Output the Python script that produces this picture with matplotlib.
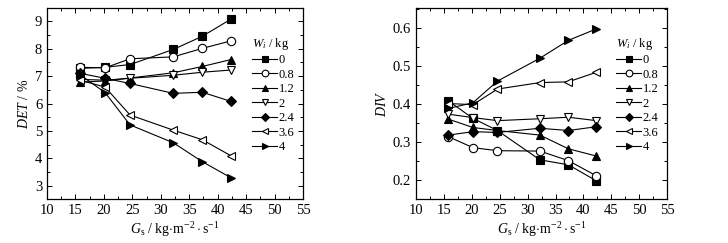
import matplotlib
matplotlib.use("Agg")
import matplotlib.pyplot as plt
from matplotlib.ticker import MultipleLocator

plt.rcParams['font.family'] = ['Liberation Serif', 'DejaVu Serif']
plt.rcParams['mathtext.fontset'] = 'custom'
plt.rcParams['mathtext.rm'] = 'Liberation Serif'
plt.rcParams['mathtext.it'] = 'Liberation Serif:italic'

gs = [15.8, 20.2, 24.6, 32.2, 37.3, 42.3]
wi_labels = ['0', '0.8', '1.2', '2', '2.4', '3.6', '4']

det_0 = [7.28, 7.32, 7.42, 7.97, 8.45, 9.07]
det_08 = [7.32, 7.30, 7.63, 7.70, 8.01, 8.28]
det_12 = [6.78, 6.82, 6.93, 7.12, 7.35, 7.60]
det_2 = [6.88, 6.85, 6.92, 7.03, 7.14, 7.22]
det_24 = [7.10, 6.92, 6.73, 6.37, 6.41, 6.08]
det_36 = [6.85, 6.60, 5.58, 5.03, 4.68, 4.10]
det_4 = [7.05, 6.40, 5.22, 4.57, 3.88, 3.30]

div_0 = [0.408, 0.362, 0.330, 0.253, 0.240, 0.198]
div_08 = [0.314, 0.285, 0.277, 0.276, 0.251, 0.211]
div_12 = [0.360, 0.338, 0.330, 0.318, 0.282, 0.263]
div_2 = [0.373, 0.364, 0.356, 0.361, 0.365, 0.356]
div_24 = [0.318, 0.327, 0.325, 0.336, 0.330, 0.340]
div_36 = [0.401, 0.398, 0.439, 0.456, 0.458, 0.483]
div_4 = [0.388, 0.403, 0.460, 0.520, 0.567, 0.597]

det_series = [det_0, det_08, det_12, det_2, det_24, det_36, det_4]
div_series = [div_0, div_08, div_12, div_2, div_24, div_36, div_4]

styles = [('s', 'k'), ('o', 'w'), ('^', 'k'), ('v', 'w'), ('D', 'k'), ('<', 'w'), ('>', 'k')]
msizes = [5.5, 6, 6, 6, 5, 6, 6]

fig = plt.figure(figsize=(7.28, 2.43), dpi=100)
ax1 = fig.add_axes([0.0646, 0.181, 0.3516, 0.786])
ax2 = fig.add_axes([0.5714, 0.181, 0.345, 0.786])

def draw(ax, series):
    for vals, (m, fc), ms, lab in zip(series, styles, msizes, wi_labels):
        ax.plot(gs, vals, color='k', lw=0.8, marker=m, markerfacecolor=fc,
                markeredgecolor='k', markeredgewidth=0.8, ms=ms, label=lab)
    ax.set_xlim(10, 55)
    ax.xaxis.set_major_locator(MultipleLocator(5))
    ax.xaxis.set_minor_locator(MultipleLocator(2.5))
    ax.tick_params(which='both', direction='in', top=True, right=True, labelsize=10.5)
    ax.tick_params(which='major', length=3.5, width=0.7)
    ax.tick_params(which='minor', length=2, width=0.7)
    for sp in ax.spines.values():
        sp.set_linewidth(0.9)
    ax.set_xlabel(r'$G_\mathrm{s}$ / kg$\cdot$m$^{-2}\cdot$s$^{-1}$', fontsize=10, labelpad=2)
    leg = ax.legend(title=r'$W_i$ / kg', loc='upper right', bbox_to_anchor=(1.0, 0.9),
                    frameon=False, fontsize=9, title_fontsize=9, handlelength=2.0,
                    handletextpad=0.1, labelspacing=0.2, borderaxespad=0.3,
                    markerscale=0.8)
    leg._legend_box.align = 'left'

draw(ax1, det_series)
ax1.set_ylim(2.52, 9.48)
ax1.yaxis.set_major_locator(MultipleLocator(1))
ax1.yaxis.set_minor_locator(MultipleLocator(0.5))
ax1.set_ylabel(r'$DET$ / %', fontsize=10, labelpad=3)

draw(ax2, div_series)
ax2.set_ylim(0.15, 0.652)
ax2.yaxis.set_major_locator(MultipleLocator(0.1))
ax2.yaxis.set_minor_locator(MultipleLocator(0.05))
ax2.set_ylabel(r'$DIV$', fontsize=10, labelpad=3)

fig.savefig('out.png', dpi=100)
